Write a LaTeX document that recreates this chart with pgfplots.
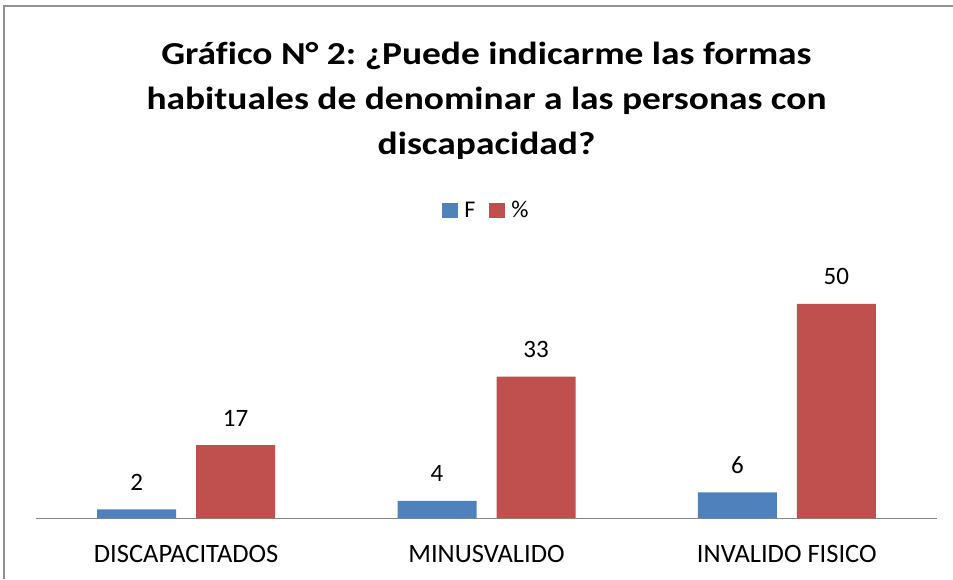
\documentclass[border=0pt]{standalone}
\usepackage{fontspec}
\setmainfont{Carlito}
\newfontfamily\titlefont{Carlito}[FakeStretch=1.17, Ligatures=NoCommon]
\frenchspacing
\usepackage{pgfplots}
\pgfplotsset{compat=1.18}
\definecolor{cblue}{HTML}{4F81BD}
\definecolor{cred}{HTML}{C0504D}
\definecolor{axgray}{HTML}{868686}
\newcommand{\lgf}{\fontsize{24}{28}\selectfont}
\begin{document}
\begin{tikzpicture}[x=1pt,y=1pt]
\path[use as bounding box] (0,0) rectangle (953,579);
\draw[axgray!90, line width=2pt] (4,0) -- (4,573) -- (953,573);
\begin{axis}[
  at={(36pt,61pt)}, anchor=south west,
  scale only axis, width=901pt, height=268pt,
  xmin=-0.5, xmax=2.5, ymin=0, ymax=62.6,
  ybar=20pt, bar width=79pt,
  axis x line*=bottom, axis y line=none,
  x axis line style={axgray, line width=1pt},
  xtick={0,1,2}, xticklabels={DISCAPACITADOS,MINUSVALIDO,INVALIDO FISICO},
  major tick length=0pt,
  xticklabel style={font=\fontsize{26.5}{30}\selectfont, anchor=base, yshift=-44pt},
  /pgf/number format/assume math mode=true,
  nodes near coords,
  every node near coord/.append style={font=\fontsize{25}{29}\selectfont, anchor=base, yshift=19pt},
  title={Gráfico N° 2: ¿Puede indicarme las formas\\habituales de denominar a las personas con\\discapacidad?},
  title style={at={(axis description cs:0.5,1)}, anchor=base, yshift=89pt, font=\titlefont\bfseries\fontsize{32}{45}\selectfont, align=center},
  legend style={at={(axis description cs:0.5,1.149)}, anchor=center, draw=none, fill=none,
    legend columns=2, font=\lgf,
    nodes={inner sep=2pt},
    /tikz/every odd column/.append style={column sep=4pt},
    /tikz/every even column/.append style={column sep=12pt}},
  legend image code/.code={\fill[#1,draw=none] (0pt,-7.5pt) rectangle (16pt,7.5pt);},
]
\addplot[fill=cblue, draw=none] coordinates {(0,2) (1,4) (2,6)};
\addplot[fill=cred, draw=none] coordinates {(0,17) (1,33) (2,50)};
\legend{{\lgf F},{\lgf \%}}
\end{axis}
\end{tikzpicture}
\end{document}
